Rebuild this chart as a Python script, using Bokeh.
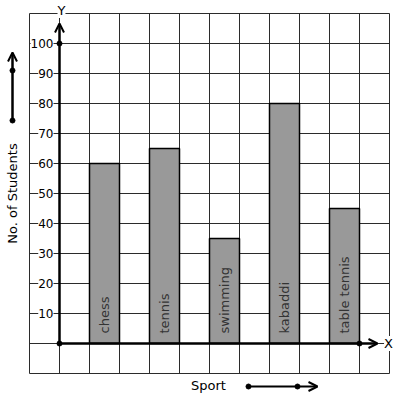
from bokeh.plotting import figure
from bokeh.models import Range1d, Arrow, OpenHead
from bokeh.core.properties import value
from bokeh.embed import file_html
from bokeh.resources import INLINE

# ---- data ----
sports = ["chess", "tennis", "swimming", "kabaddi", "table tennis"]
students = [60, 65, 35, 80, 45]
y_ticks = [10, 20, 30, 40, 50, 60, 70, 80, 90, 100]
y_tick_labels = [str(t) for t in y_ticks]
x_grid = list(range(-1, 12))
y_grid = list(range(-10, 111, 10))

# ---- layout (pixels -> data) ----
W, H = 395, 397
PX, PY = 30.0, 3.0          # pixels per x unit, per y unit
OX, OY = 59, 343            # origin inside canvas
x_range = Range1d(-OX / PX, (W - OX) / PX)
y_range = Range1d((OY - H) / PY, OY / PY)

p = figure(width=W, height=H, x_range=x_range, y_range=y_range,
           output_backend="svg", toolbar_location=None, min_border=0,
           x_axis_type=None, y_axis_type=None)
p.outline_line_color = None
p.background_fill_color = "white"
p.border_fill_color = "white"

FONT = value("DejaVu Sans")

# grid
p.segment(x0=x_grid, y0=[y_grid[0]] * len(x_grid), x1=x_grid, y1=[y_grid[-1]] * len(x_grid),
          line_color="#2b2b2b", line_width=1)
p.segment(x0=[x_grid[0]] * len(y_grid), y0=y_grid, x1=[x_grid[-1]] * len(y_grid), y1=y_grid,
          line_color="#2b2b2b", line_width=1)

# bars
bar_x = [2 * i + 1.5 for i in range(len(sports))]
p.vbar(x=bar_x, width=1, top=students, bottom=0,
       fill_color="#999999", line_color="black", line_width=1.5)

# bar labels
p.text(x=bar_x, y=[10 / PY] * len(sports), text=sports, angle=1.5708,
       text_align="left", text_baseline="middle", text_font=FONT,
       text_font_size="13px", text_color="#333333")

# axes with arrows
p.add_layout(Arrow(x_start=0, y_start=0, x_end=0, y_end=(343 - 23) / PY,
                   line_width=2.5, line_color="black",
                   end=OpenHead(size=9, line_width=2, line_color="black")))
p.add_layout(Arrow(x_start=0, y_start=0, x_end=(377 - 59) / PX, y_end=0,
                   line_width=2.5, line_color="black",
                   end=OpenHead(size=9, line_width=2, line_color="black")))
p.scatter(x=[0, 0, 10], y=[0, 100, 0], size=5, color="black")

# tick labels
p.text(x=[-6 / PX] * len(y_ticks), y=y_ticks, text=y_tick_labels,
       text_align="right", text_baseline="middle", text_font=FONT,
       text_font_size="12px", text_color="black",
       background_fill_color="white")

# axis letters
p.text(x=[2 / PX], y=[(343 - 10) / PY], text=["Y"], text_align="center",
       text_baseline="middle", text_font=FONT, text_font_size="13px",
       text_color="black", background_fill_color="white")
p.text(x=[(388 - 59) / PX], y=[0], text=["X"], text_align="center",
       text_baseline="middle", text_font=FONT, text_font_size="13px",
       text_color="black", background_fill_color="white")

# axis titles
p.text(x=[(12 - 59) / PX], y=[(343 - 193) / PY], text=["No. of Students"],
       angle=1.5708, text_align="center", text_baseline="middle",
       text_font=FONT, text_font_size="13px", text_color="black")
p.text(x=[(208 - 59) / PX], y=[(343 - 385) / PY], text=["Sport"],
       text_align="center", text_baseline="middle",
       text_font=FONT, text_font_size="13px", text_color="black")

# side arrows
lx = (12 - 59) / PX
p.add_layout(Arrow(x_start=lx, y_start=(343 - 120) / PY, x_end=lx, y_end=(343 - 52) / PY,
                   line_width=2.5, line_color="black",
                   end=OpenHead(size=9, line_width=2, line_color="black")))
p.scatter(x=[lx, lx], y=[(343 - 120) / PY, (343 - 70) / PY], size=5, color="black")
sy = (343 - 386) / PY
p.add_layout(Arrow(x_start=(248 - 59) / PX, y_start=sy, x_end=(317 - 59) / PX, y_end=sy,
                   line_width=2, line_color="black",
                   end=OpenHead(size=9, line_width=2, line_color="black")))
p.scatter(x=[(248 - 59) / PX, (297 - 59) / PX], y=[sy, sy], size=5, color="black")

open("out.html", "w").write(file_html(p, INLINE))
